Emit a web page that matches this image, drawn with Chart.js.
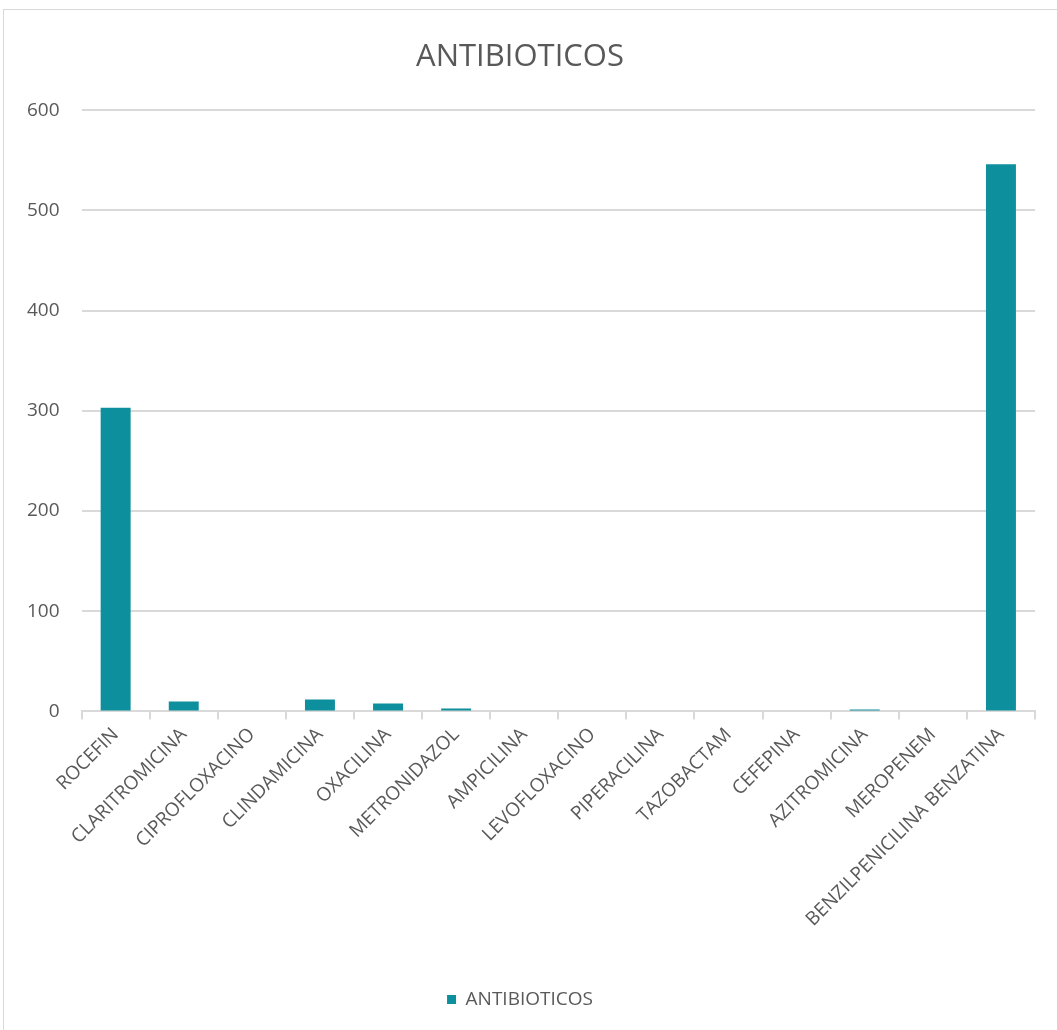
<!DOCTYPE html>
<html>
<head>
<meta charset="utf-8">
<script src="https://cdn.jsdelivr.net/npm/chart.js@4/dist/chart.umd.min.js"></script>
<style>
  body { margin: 0; background: #fff; }
  #frame { position: absolute; left: 3px; top: 9px; width: 1060px; height: 1025px; border: 1px solid #d9d9d9; box-sizing: border-box; }
  #chart { position: absolute; left: 0; top: 0; }
</style>
</head>
<body>
<div id="frame"></div>
<canvas id="chart" width="1057" height="1030"></canvas>
<script>
const categories = ["ROCEFIN", "CLARITROMICINA", "CIPROFLOXACINO", "CLINDAMICINA", "OXACILINA", "METRONIDAZOL", "AMPICILINA", "LEVOFLOXACINO", "PIPERACILINA", "TAZOBACTAM", "CEFEPINA", "AZITROMICINA", "MEROPENEM", "BENZILPENICILINA BENZATINA"];
const values = [303, 10, 1, 12, 8, 3, 0, 0, 0, 0, 0, 2, 0, 546];
const yTicks = [0, 100, 200, 300, 400, 500, 600];

const ctx = document.getElementById("chart").getContext("2d");
new Chart(ctx, {
  type: "bar",
  data: {
    labels: categories,
    datasets: [
      {
        label: "ANTIBIOTICOS",
        data: values,
        backgroundColor: "#0e8f9e",
        barPercentage: 0.44,
        categoryPercentage: 1,
      },
    ],
  },
  options: {
    responsive: false,
    animation: false,
    layout: { padding: { left: 5, right: 22, top: 39, bottom: 11 } },
    plugins: {
      title: {
        display: true,
        text: "ANTIBIOTICOS",
        color: "#595959",
        font: { family: "Open Sans", size: 31, weight: "normal" },
        padding: { top: 0, bottom: 34 },
      },
      legend: {
        position: "bottom",
        labels: {
          color: "#595959",
          font: { family: "Open Sans", size: 19 },
          boxWidth: 9,
          boxHeight: 9,
          padding: 10,
        },
      },
      tooltip: { enabled: false },
    },
    scales: {
      x: {
        afterFit: (axis) => {
          axis.height += 45;
        },
        grid: {
          offset: true,
          drawOnChartArea: false,
          drawTicks: true,
          tickLength: 8,
          color: "#d9d9d9",
          lineWidth: 2,
        },
        border: { color: "#d9d9d9", width: 2 },
        ticks: {
          color: "#595959",
          font: { family: "Open Sans", size: 19 },
          maxRotation: 45,
          minRotation: 45,
          autoSkip: false,
          padding: 4,
        },
      },
      y: {
        min: 0,
        max: 600,
        afterBuildTicks: (axis) => {
          axis.ticks = yTicks.map((v) => ({ value: v }));
        },
        grid: { color: "#d9d9d9", lineWidth: 2, drawTicks: false },
        border: { display: false },
        ticks: {
          color: "#595959",
          font: { family: "Open Sans", size: 19 },
          padding: 22,
        },
      },
    },
  },
});
</script>
</body>
</html>
